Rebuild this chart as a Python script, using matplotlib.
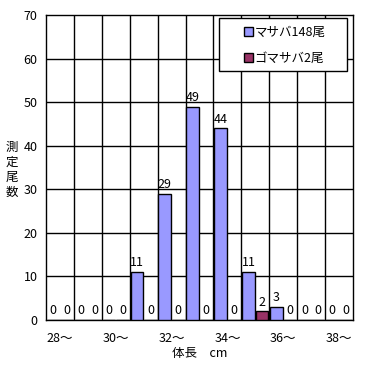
import matplotlib
matplotlib.use('Agg')
import matplotlib.pyplot as plt
from matplotlib.patches import Patch, Rectangle

plt.rcParams['font.family'] = ['Noto Sans CJK JP', 'DejaVu Sans']

lengths = [28, 29, 30, 31, 32, 33, 34, 35, 36, 37, 38]
masaba = [0, 0, 0, 11, 29, 49, 44, 11, 3, 0, 0]
gomasaba = [0, 0, 0, 0, 0, 0, 0, 2, 0, 0, 0]
tick_labels = ['28～', '30～', '32～', '34～', '36～', '38～']
series_names = ['マサバ148尾', 'ゴマサバ2尾']
ylabel = '測定尾数'

fig = plt.figure(figsize=(3.71, 3.65), dpi=100)
ax = fig.add_axes([46/371, 1 - 320/365, 307/371, 305/365])

x = list(range(len(lengths)))
w = 0.46
b1 = ax.bar([i - 0.24 for i in x], masaba, w, color='#9999FF', edgecolor='black', linewidth=1, zorder=3)
b2 = ax.bar([i + 0.24 for i in x], gomasaba, w, color='#993366', edgecolor='black', linewidth=1, zorder=3)

for bars, vals in ((b1, masaba), (b2, gomasaba)):
    for r, v in zip(bars, vals):
        ax.annotate(str(v), (r.get_x() + r.get_width() / 2, v), xytext=(0, 2),
                    textcoords='offset points', ha='center', va='bottom', fontsize=9)

ax.set_xlim(-0.5, len(lengths) - 0.5)
ax.set_ylim(0, 70)
ax.set_yticks(range(0, 71, 10))
ax.set_xticks([i for i in x if i % 2 == 0])
ax.set_xticklabels(tick_labels)
ax.tick_params(length=0, labelsize=9, pad=9)
ax.tick_params(axis='y', pad=6)
for i in range(len(lengths) - 1):
    ax.axvline(i + 0.5, color='black', linewidth=1, zorder=1)
for yv in range(10, 70, 10):
    ax.axhline(yv, color='black', linewidth=1, zorder=1)
for s in ax.spines.values():
    s.set_color('black')
    s.set_linewidth(1)

ax.set_xlabel('体長　cm', fontsize=9, labelpad=1)
for k, ch in enumerate(ylabel):
    fig.text(12/371, 1 - (147 + k * 15)/365, ch, ha='center', va='center', fontsize=9)

# legend box
ax.add_patch(Rectangle(((219 - 46)/307, (320 - 71)/305), 128/307, 53/305,
                       transform=ax.transAxes, facecolor='white', edgecolor='black',
                       linewidth=1, zorder=4, clip_on=False))
handles = [Patch(facecolor='#9999FF', edgecolor='black'), Patch(facecolor='#993366', edgecolor='black')]
leg = ax.legend(handles, series_names, loc='upper left',
                bbox_to_anchor=((244 - 46)/307, (320 - 26)/305),
                fontsize=9, frameon=False, handlelength=0.7, handleheight=0.7,
                handletextpad=0.15, labelspacing=1.05, borderpad=0, borderaxespad=0)
leg.set_zorder(5)

fig.savefig('out.png', dpi=100)
